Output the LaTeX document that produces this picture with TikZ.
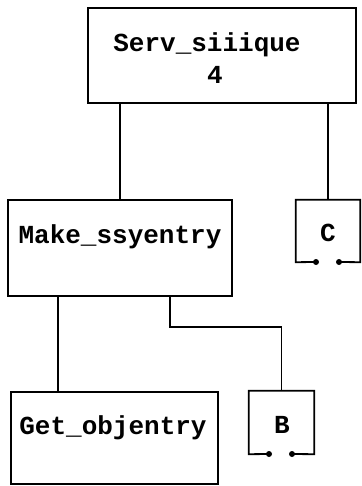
\documentclass[tikz,border=0pt]{standalone}
\usepackage{fontspec}
\setmonofont{Liberation Mono}
\begin{document}
\begin{tikzpicture}[x=1pt,y=-1pt,
  box/.style={draw=black,line width=1.8pt,rectangle,inner sep=0pt},
  ghost/.style={draw=none,rectangle,inner sep=0pt},
  lbl/.style={font=\ttfamily\bfseries\fontsize{26}{30}\selectfont,inner sep=0pt},
  wire/.style={draw=black,line width=1.6pt},
  dotmark/.style={circle,fill=black,inner sep=0pt,minimum size=6pt}]
\useasboundingbox (0,0) rectangle (361,486);
% boxes
\node[box,minimum width=268pt,minimum height=95pt] (serv) at (222,55.5) {};
\node[lbl] (servt) at (207,45) {Serv\_siiique};
\node[lbl] (servn) at (215,75) {4};
\node[box,minimum width=224pt,minimum height=96pt] (make) at (120,248) {};
\node[lbl] (maket) at (120,237) {Make\_ssyentry};
\node[box,minimum width=207pt,minimum height=92pt] (get) at (114.5,438) {};
\node[lbl] (gett) at (113,428) {Get\_objentry};
% open boxes C and B
\node[ghost,minimum width=64pt,minimum height=62pt] (c) at (328,231) {};
\node[lbl] (ct) at (328,233) {C};
\node[dotmark] (c1) at (316,262) {};
\node[dotmark] (c2) at (339,262) {};
\draw[line width=1.8pt] (c1.center) -- (c.south west) -- (c.north west) -- (c.north east) -- (c.south east) -- (c2.center);
\node[ghost,minimum width=65pt,minimum height=63pt] (b) at (281.5,422.5) {};
\node[lbl] (bt) at (282,425) {B};
\node[dotmark] (b1) at (269,454) {};
\node[dotmark] (b2) at (292,454) {};
\draw[line width=1.8pt] (b1.center) -- (b.south west) -- (b.north west) -- (b.north east) -- (b.south east) -- (b2.center);
% connector coordinates
\coordinate (gx) at (58,0);
\coordinate (bendx) at (170,0);
\coordinate (bendy) at (0,327);
% connectors
\draw[wire] (serv.south -| make.north) -- (make.north);
\draw[wire] (serv.south -| c.north) -- (c.north);
\draw[wire] (make.south -| gx) -- (get.north -| gx);
\draw[wire] (make.south -| bendx) -- (bendx |- bendy) -- (b.north |- bendy) -- (b.north);
\end{tikzpicture}
\end{document}
